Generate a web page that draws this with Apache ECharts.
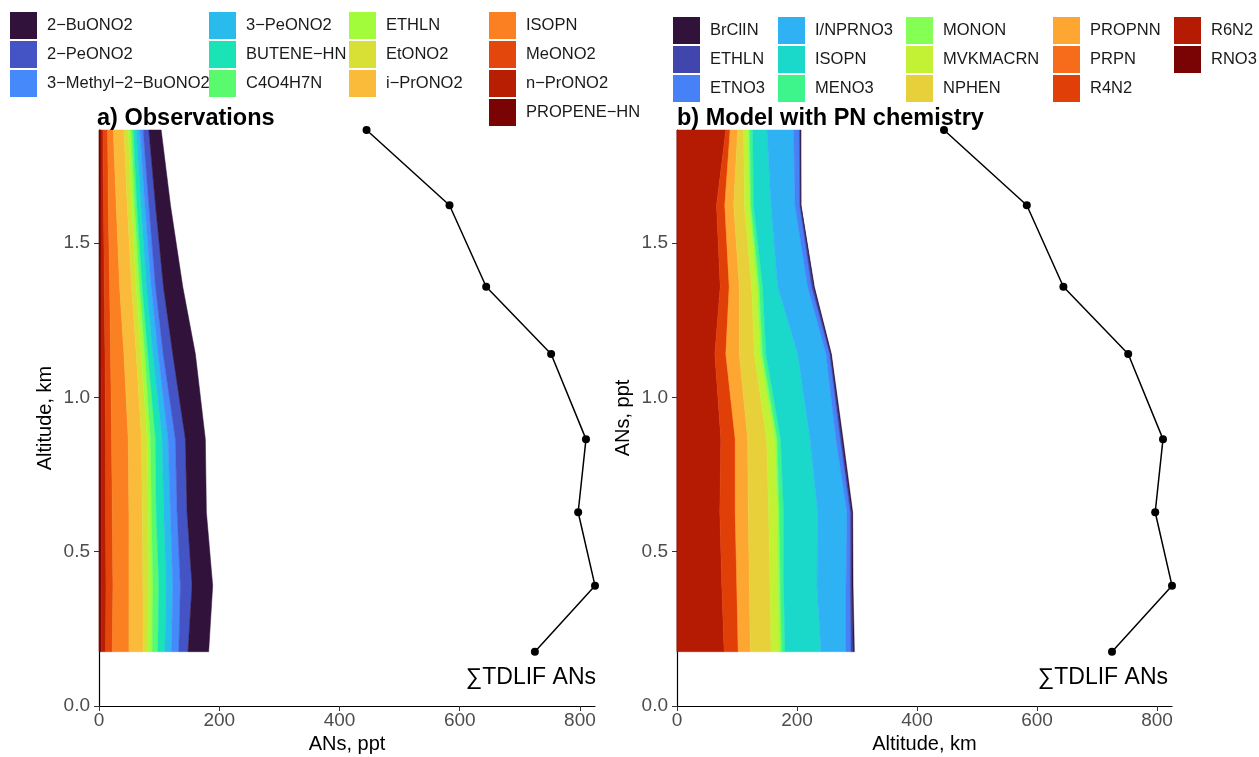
<!DOCTYPE html>
<html>
<head>
<meta charset="utf-8">
<script src="https://cdn.jsdelivr.net/npm/echarts@6/dist/echarts.min.js"></script>
<style>
  html, body { margin: 0; padding: 0; background: #fff; }
  #chart { width: 1259px; height: 757px; }
</style>
</head>
<body>
<div id="chart"></div>
<script>
// altitude levels (km), bottom to top
var altitude = [0.176, 0.390, 0.628, 0.865, 1.141, 1.359, 1.623, 1.867];
// total TDLIF ANs (ppt) at each level
var tdlif = [725, 825, 797, 810, 752, 644, 583, 445];

var xTicks = [0, 200, 400, 600, 800];
var yTicks = [0, 0.5, 1.0, 1.5];

// a) observations, legend order (first = outermost in the stack)
var obsSpecies = ['2-BuONO2', '2-PeONO2', '3-Methyl-2-BuONO2', '3-PeONO2', 'BUTENE-HN', 'C4O4H7N',
  'ETHLN', 'EtONO2', 'i-PrONO2', 'ISOPN', 'MeONO2', 'n-PrONO2', 'PROPENE-HN'];
var obsColors = ['#30123B', '#4454C4', '#4689FA', '#28BBEC', '#1AE4B6', '#5AFA6F',
  '#A2FC3C', '#D8E036', '#F9BB39', '#FB8022', '#E3470B', '#B81F02', '#7A0403'];
var obsPpt = [
  [34.3, 34.3, 32.1, 33.2, 37.6, 32.1, 24.9, 20.5],
  [15.4, 19.4, 16.6, 16.6, 16.0, 13.2, 11.1, 9.4],
  [12.2, 12.7, 11.1, 12.1, 8.3, 7.2, 6.6, 5.5],
  [11.0, 11.0, 11.0, 10.0, 8.8, 7.8, 6.6, 6.1],
  [11.7, 12.2, 12.7, 11.0, 8.3, 7.1, 6.7, 5.0],
  [9.4, 9.9, 7.8, 8.3, 5.0, 4.5, 3.9, 3.8],
  [6.6, 6.7, 5.5, 5.5, 6.1, 5.5, 4.9, 4.5],
  [8.3, 9.9, 9.9, 9.4, 8.3, 7.7, 7.2, 7.1],
  [23.7, 23.2, 22.1, 22.2, 20.4, 19.9, 18.3, 17.7],
  [27.7, 26.6, 27.7, 27.6, 22.2, 16.6, 13.2, 9.4],
  [11.0, 11.6, 11.0, 9.9, 9.3, 8.9, 7.8, 7.8],
  [7.6, 7.7, 7.2, 7.2, 6.7, 5.5, 4.4, 3.3],
  [3.5, 3.9, 3.9, 3.9, 3.3, 3.3, 3.3, 3.3]
];

// b) model with PN chemistry
var modSpecies = ['BrClIN', 'ETHLN', 'ETNO3', 'I/NPRNO3', 'ISOPN', 'MENO3', 'MONON',
  'MVKMACRN', 'NPHEN', 'PROPNN', 'PRPN', 'R4N2', 'R6N2', 'RNO3'];
var modColors = ['#30123B', '#4146AC', '#4681F7', '#2FB2F3', '#1AD8CA', '#3DF58B', '#84FF53',
  '#C3F235', '#E8D03A', '#FEA632', '#F76C1A', '#E03F08', '#B41B02', '#7A0403'];
var modPpt = [
  [1.7, 1.7, 1.6, 1.7, 1.1, 1.1, 0.5, 1.1],
  [3.9, 2.8, 2.3, 2.7, 1.7, 3.3, 1.7, 1.7],
  [8.3, 7.2, 5.5, 7.3, 6.1, 6.7, 7.8, 9.4],
  [41.7, 48.3, 48.9, 43.3, 47.2, 50.0, 40.0, 44.5],
  [60.0, 55.6, 56.7, 48.9, 52.8, 25.0, 28.9, 23.8],
  [5.5, 5.5, 7.2, 5.5, 5.6, 5.5, 4.4, 5.0],
  [3.9, 3.4, 2.8, 3.9, 3.9, 3.9, 2.8, 2.3],
  [13.9, 13.9, 15.0, 13.9, 10.0, 8.9, 8.3, 7.7],
  [34.4, 34.4, 33.9, 31.7, 25.0, 20.6, 17.8, 10.0],
  [20.0, 20.6, 21.6, 20.5, 22.2, 16.6, 14.5, 12.3],
  [0.3, 0.3, 0.3, 0.3, 0.3, 0.3, 0.3, 0.3],
  [23.4, 25.0, 25.6, 23.9, 18.3, 15.0, 13.8, 7.2],
  [78.3, 74.4, 71.1, 72.8, 62.8, 71.7, 65.6, 81.1],
  [0.3, 0.3, 0.3, 0.3, 0.3, 0.3, 0.3, 0.3]
];

var obsLegendCols = [
  ['2-BuONO2', '2-PeONO2', '3-Methyl-2-BuONO2'],
  ['3-PeONO2', 'BUTENE-HN', 'C4O4H7N'],
  ['ETHLN', 'EtONO2', 'i-PrONO2'],
  ['ISOPN', 'MeONO2', 'n-PrONO2', 'PROPENE-HN']
];
var modLegendCols = [
  ['BrClIN', 'ETHLN', 'ETNO3'],
  ['I/NPRNO3', 'ISOPN', 'MENO3'],
  ['MONON', 'MVKMACRN', 'NPHEN'],
  ['PROPNN', 'PRPN', 'R4N2'],
  ['R6N2', 'RNO3']
];

var FONT = '"Liberation Sans", Arial, Helvetica, sans-serif';

// stacked bands drawn as polygons, stack starts at x = 0 from the last species
function bandSeries(prefix, names, colors, values, axisIdx) {
  var out = [];
  var base = altitude.map(function () { return 0; });
  for (var k = names.length - 1; k >= 0; k--) {
    var left = base.slice();
    var right = base.map(function (b, i) { return b + values[k][i]; });
    base = right;
    (function (left, right, color) {
      out.push({
        type: 'custom',
        name: prefix + names[k],
        xAxisIndex: axisIdx,
        yAxisIndex: axisIdx,
        color: color,
        itemStyle: { color: color },
        silent: true,
        animation: false,
        data: [[0]],
        renderItem: function (params, api) {
          var pts = [];
          for (var i = 0; i < altitude.length; i++) pts.push(api.coord([right[i], altitude[i]]));
          for (var j = altitude.length - 1; j >= 0; j--) pts.push(api.coord([left[j], altitude[j]]));
          return {
            type: 'polygon',
            shape: { points: pts },
            style: { fill: color, stroke: color, lineWidth: 0.5 }
          };
        }
      });
    })(left, right, colors[k]);
  }
  return out;
}

function legends(prefix, cols, lefts, top) {
  return cols.map(function (col, c) {
    return {
      orient: 'vertical',
      left: lefts[c],
      top: top,
      padding: 0,
      itemWidth: 27,
      itemHeight: 27,
      itemGap: 2,
      icon: 'rect',
      selectedMode: false,
      data: col.map(function (n) { return prefix + n; }),
      // R draws the hyphens as minus signs
      formatter: function (name) { return name.slice(prefix.length).replace(/-/g, '\u2212'); },
      textStyle: { fontFamily: FONT, fontSize: 16.5, color: '#1a1a1a', padding: [0, 0, 0, 5] }
    };
  });
}

function xAxisOpt(idx, name) {
  return {
    type: 'value', gridIndex: idx, min: 0, max: 825,
    name: name, nameLocation: 'middle', nameGap: 28,
    nameTextStyle: { fontFamily: FONT, fontSize: 20, color: '#000' },
    splitLine: { show: false },
    axisLine: { lineStyle: { color: '#000', width: 1.2 } },
    axisTick: { length: 5, customValues: xTicks, lineStyle: { color: '#333' } },
    axisLabel: { customValues: xTicks, margin: 5, fontFamily: FONT, fontSize: 19, color: '#4d4d4d' }
  };
}
function yAxisOpt(idx, name) {
  return {
    type: 'value', gridIndex: idx, min: 0, max: 1.867,
    name: name, nameLocation: 'middle', nameGap: 44,
    nameTextStyle: { fontFamily: FONT, fontSize: 20, color: '#000' },
    splitLine: { show: false },
    axisLine: { lineStyle: { color: '#000', width: 1.2 } },
    axisTick: { length: 5, customValues: yTicks, lineStyle: { color: '#333' } },
    axisLabel: {
      customValues: yTicks, margin: 9, fontFamily: FONT, fontSize: 19, color: '#4d4d4d',
      formatter: function (v) { return v.toFixed(1); }
    }
  };
}

function lineSeries(idx) {
  return {
    type: 'line', name: 'TDLIF' + idx,
    xAxisIndex: idx, yAxisIndex: idx,
    data: tdlif.map(function (v, i) { return [v, altitude[i]]; }),
    symbol: 'circle', symbolSize: 8,
    itemStyle: { color: '#000' },
    lineStyle: { color: '#000', width: 1.5 },
    z: 5, animation: false, silent: true
  };
}

var chart = echarts.init(document.getElementById('chart'));
chart.setOption({
  backgroundColor: '#fff',
  animation: false,
  title: [
    { text: 'a) Observations', left: 97, top: 107, padding: 0, textStyle: { fontFamily: FONT, fontSize: 23.5, fontWeight: 'bold', color: '#000' } },
    { text: 'b) Model with PN chemistry', left: 677, top: 107, padding: 0, textStyle: { fontFamily: FONT, fontSize: 23.5, fontWeight: 'bold', color: '#000' } }
  ],
  legend: legends('a_', obsLegendCols, [10, 209, 349, 489], 12)
    .concat(legends('b_', modLegendCols, [673, 778, 906, 1053, 1174], 17)),
  grid: [
    { left: 99, right: 664, top: 130, bottom: 51, outerBoundsMode: 'none' },
    { left: 677, right: 87, top: 130, bottom: 51, outerBoundsMode: 'none' }
  ],
  xAxis: [xAxisOpt(0, 'ANs, ppt'), xAxisOpt(1, 'Altitude, km')],
  yAxis: [yAxisOpt(0, 'Altitude, km'), yAxisOpt(1, 'ANs, ppt')],
  graphic: [
    { type: 'text', right: 663, top: 666, style: { text: '\u2211TDLIF ANs', font: '23px ' + FONT, fill: '#000' } },
    { type: 'text', right: 91, top: 666, style: { text: '\u2211TDLIF ANs', font: '23px ' + FONT, fill: '#000' } }
  ],
  series: bandSeries('a_', obsSpecies, obsColors, obsPpt, 0)
    .concat(bandSeries('b_', modSpecies, modColors, modPpt, 1))
    .concat([lineSeries(0), lineSeries(1)])
});
</script>
</body>
</html>
